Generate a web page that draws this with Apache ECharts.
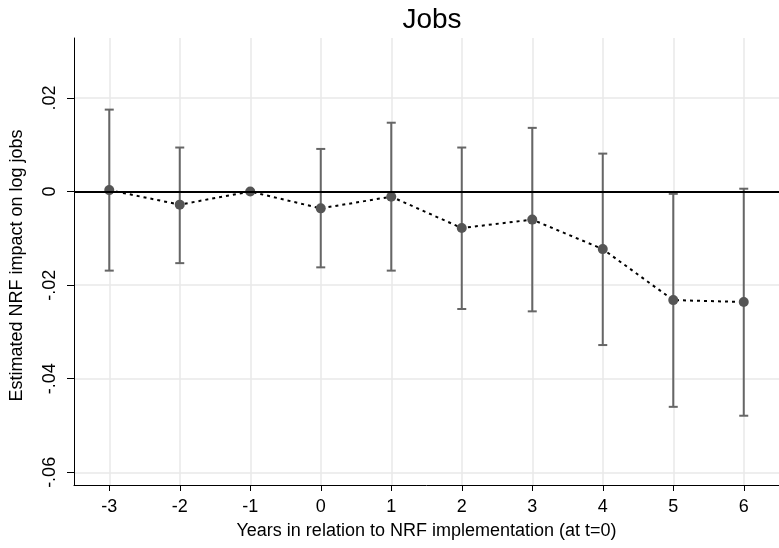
<!DOCTYPE html>
<html>
<head>
<meta charset="utf-8">
<script src="https://cdn.jsdelivr.net/npm/echarts@6/dist/echarts.min.js"></script>
<style>
    html, body { margin: 0; padding: 0; background: #fff; }
    #main { width: 779px; height: 548px; }
</style>
</head>
<body>
<div id="main"></div>
<script>
    // event-time coefficients
    var years = [-3, -2, -1, 0, 1, 2, 3, 4, 5, 6];
    var coef = [0.0003, -0.0028, 0, -0.0036, -0.0011, -0.0078, -0.0060, -0.0123, -0.0232, -0.0236];
    var ciLow = [-0.0169, -0.0153, 0, -0.0162, -0.0169, -0.0251, -0.0256, -0.0328, -0.0460, -0.0479];
    var ciHigh = [0.0175, 0.0094, 0, 0.0091, 0.0147, 0.0094, 0.0136, 0.0081, -0.0005, 0.0006];
    var yTicks = [-0.06, -0.04, -0.02, 0, 0.02];

    var font = 'Liberation Sans, Arial, sans-serif';

    function fmtY(v) {
        var s = (Math.round(v * 100) / 100).toString();
        return s.replace('0.', '.');
    }

    var points = [], bars = [];
    for (var i = 0; i < years.length; i++) {
        points.push([years[i], coef[i]]);
        bars.push([years[i], ciLow[i], ciHigh[i]]);
    }

    var myChart = echarts.init(document.getElementById('main'));
    var option = {
        backgroundColor: '#fff',
        animation: false,
        title: {
            text: 'Jobs',
            left: 427,
            top: 1,
            textAlign: 'center',
            textStyle: {fontFamily: font, fontSize: 28, fontWeight: 'normal', color: '#000'}
        },
        grid: {left: 74, right: 0, top: 38, bottom: 63},
        xAxis: {
            type: 'value',
            min: -3.5,
            max: 6.5,
            name: 'Years in relation to NRF implementation (at t=0)',
            nameLocation: 'middle',
            nameGap: 37,
            nameTextStyle: {fontFamily: font, fontSize: 18, color: '#000'},
            axisLine: {onZero: false, lineStyle: {color: '#000', width: 1}},
            axisTick: {show: true, length: 6, customValues: years, lineStyle: {color: '#000'}},
            axisLabel: {customValues: years, margin: 13, fontFamily: font, fontSize: 18, color: '#000'},
            splitLine: {show: true, lineStyle: {color: '#e8e8e8', width: 1.5}}
        },
        yAxis: {
            type: 'value',
            min: -0.0627,
            max: 0.0328,
            name: 'Estimated NRF impact on log jobs',
            nameLocation: 'middle',
            nameGap: 48,
            nameTextStyle: {fontFamily: font, fontSize: 18, color: '#000', padding: [0, 8, 0, 0]},
            axisLine: {show: true, onZero: false, lineStyle: {color: '#000', width: 1}},
            axisTick: {show: true, length: 7, customValues: yTicks, lineStyle: {color: '#000'}},
            axisLabel: {
                customValues: yTicks, rotate: 90, margin: 15,
                fontFamily: font, fontSize: 18, color: '#000',
                formatter: fmtY
            },
            splitLine: {show: true, lineStyle: {color: '#e8e8e8', width: 1.5}}
        },
        series: [
            {
                type: 'custom',
                name: 'ci',
                data: bars,
                z: 3,
                renderItem: function (params, api) {
                    var x = api.value(0);
                    var lo = api.coord([x, api.value(1)]);
                    var hi = api.coord([x, api.value(2)]);
                    var w = 4.5;
                    var st = {stroke: '#666', lineWidth: 2};
                    return {
                        type: 'group',
                        children: [
                            {type: 'line', shape: {x1: lo[0], y1: lo[1], x2: hi[0], y2: hi[1]}, style: st},
                            {type: 'line', shape: {x1: lo[0] - w, y1: lo[1], x2: lo[0] + w, y2: lo[1]}, style: st},
                            {type: 'line', shape: {x1: hi[0] - w, y1: hi[1], x2: hi[0] + w, y2: hi[1]}, style: st}
                        ]
                    };
                }
            },
            {
                type: 'line',
                name: 'coef',
                data: points,
                z: 4,
                symbol: 'circle',
                symbolSize: 10,
                itemStyle: {color: '#555'},
                lineStyle: {color: '#000', width: 2, type: [3, 4]},
                markLine: {
                    silent: true,
                    symbol: 'none',
                    label: {show: false},
                    lineStyle: {color: '#000', width: 2, type: 'solid'},
                    data: [{yAxis: 0}]
                }
            }
        ]
    };
    myChart.setOption(option);
</script>
</body>
</html>
